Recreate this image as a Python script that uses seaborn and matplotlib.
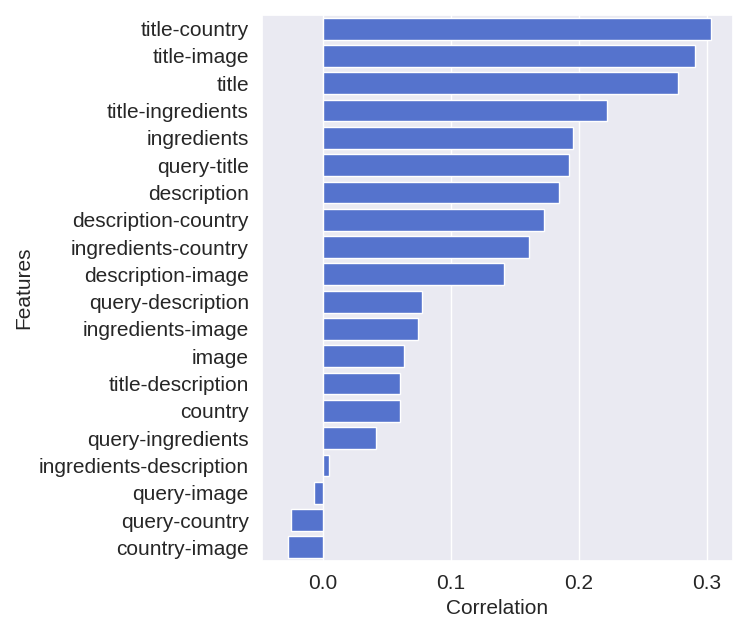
import matplotlib
matplotlib.use("Agg")
import matplotlib.pyplot as plt
import seaborn as sns
import pandas as pd

sns.set_theme(style="darkgrid")
plt.rcParams['font.family'] = ['Liberation Sans', 'DejaVu Sans']

# --------------------------
# DATA
# --------------------------
features = [
    "title-country", "title-image", "title", "title-ingredients",
    "ingredients", "query-title", "description", "description-country",
    "ingredients-country", "description-image", "query-description",
    "ingredients-image", "image", "title-description", "country",
    "query-ingredients", "ingredients-description", "query-image",
    "query-country", "country-image",
]
correlation = [
    0.303, 0.291, 0.277, 0.222,
    0.195, 0.192, 0.184, 0.173,
    0.161, 0.141, 0.077,
    0.074, 0.063, 0.060, 0.060,
    0.041, 0.005, -0.007,
    -0.025, -0.027,
]

df = pd.DataFrame({"Features": features, "Correlation": correlation})

# --------------------------
# PLOT
# --------------------------
fig = plt.figure(figsize=(7.48, 6.36), dpi=100)
ax = fig.add_axes([262 / 748, 1 - 561 / 636, (733 - 262) / 748, (561 - 15) / 636])

sns.barplot(
    data=df,
    x="Correlation",
    y="Features",
    color="royalblue",
    edgecolor="white",
    linewidth=1,
    ax=ax
)

ax.set_xlim(-0.0477, 0.3203)
ax.set_xticks([0.0, 0.1, 0.2, 0.3])
ax.tick_params(labelsize=15)
ax.set_xlabel("Correlation", fontsize=15)
ax.set_ylabel("Features", fontsize=15)

fig.savefig("out.png", dpi=100)
